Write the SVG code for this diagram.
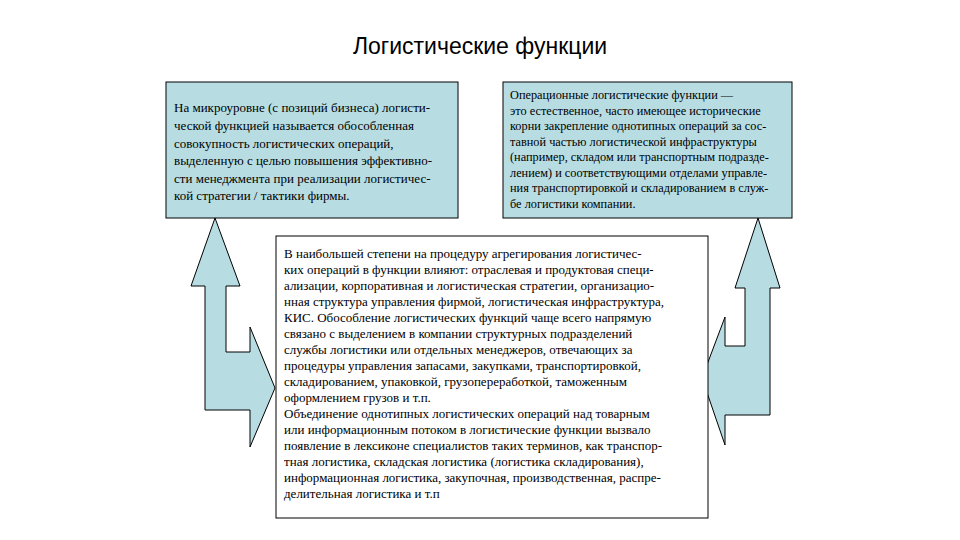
<svg xmlns="http://www.w3.org/2000/svg" width="960" height="540" viewBox="0 0 960 540">
<style>
.box{fill:#b7dde3;stroke:#000;stroke-width:1}
.wbox{fill:#fff;stroke:#000;stroke-width:1}
.arr{fill:#b7dde3;stroke:#000;stroke-width:1}
.s{font-family:'Liberation Serif','Times New Roman','DejaVu Serif',serif}
</style>
<rect width="960" height="540" fill="#fff"/>
<text font-family="'Liberation Sans', sans-serif" font-size="23" x="480" y="54" text-anchor="middle">Логистические функции</text>
<g id="connectors">
<polygon class="arr" points="215,218 240,286 226,286 226,352 250,352 250,327 275,388 250,447 250,410 205,410 205,286 191,286"/>
<polygon class="arr" points="758,218 780,288 770,288 770,415 725,415 725,445 702,378 725,317 725,346 745,346 745,288 735,288"/>
</g>
<g id="left">
<rect class="box" x="166" y="82" width="292" height="136"/>
<text class="s" font-size="13">
<tspan x="174" y="112">На микроуровне (с позиций бизнеса) логисти-</tspan>
<tspan x="174" y="130">ческой функцией называется обособленная</tspan>
<tspan x="174" y="148">совокупность логистических операций,</tspan>
<tspan x="174" y="165">выделенную с целью повышения эффективно-</tspan>
<tspan x="174" y="183">сти менеджмента при реализации логистичес-</tspan>
<tspan x="174" y="200">кой стратегии / тактики фирмы.</tspan>
</text>
</g>
<g id="right">
<rect class="box" x="503" y="82" width="289" height="136"/>
<text class="s" font-size="12.3">
<tspan x="510" y="99">Операционные логистические функции —</tspan>
<tspan x="510" y="115">это естественное, часто имеющее исторические</tspan>
<tspan x="510" y="130"> корни закрепление однотипных операций за сос-</tspan>
<tspan x="510" y="146">тавной частью логистической инфраструктуры</tspan>
<tspan x="510" y="161"> (например, складом или транспортным подразде-</tspan>
<tspan x="510" y="177">лением) и соответствующими отделами управле-</tspan>
<tspan x="510" y="192">ния транспортировкой и складированием в служ-</tspan>
<tspan x="510" y="208">бе логистики компании.</tspan>
</text>
</g>
<g id="center">
<rect class="wbox" x="276" y="236" width="432" height="282"/>
<text class="s" font-size="13">
<tspan x="284" y="258">В наибольшей степени на процедуру агрегирования  логистичес-</tspan>
<tspan x="284" y="274">ких операций в функции влияют: отраслевая и продуктовая специ-</tspan>
<tspan x="284" y="290">ализации, корпоративная и логистическая стратегии, организацио-</tspan>
<tspan x="284" y="306">нная структура управления фирмой, логистическая инфраструктура,</tspan>
<tspan x="284" y="322">КИС. Обособление логистических функций чаще всего напрямую</tspan>
<tspan x="284" y="338">связано с выделением в компании структурных подразделений</tspan>
<tspan x="284" y="354">службы логистики или отдельных менеджеров, отвечающих за</tspan>
<tspan x="284" y="370">процедуры управления запасами, закупками, транспортировкой,</tspan>
<tspan x="284" y="386">складированием, упаковкой, грузопереработкой, таможенным</tspan>
<tspan x="284" y="402">оформлением грузов и т.п.</tspan>
<tspan x="284" y="418">Объединение однотипных логистических операций над товарным</tspan>
<tspan x="284" y="434">или информационным потоком в логистические  функции вызвало</tspan>
<tspan x="284" y="450">появление в лексиконе специалистов таких терминов, как транспор-</tspan>
<tspan x="284" y="466">тная логистика, складская логистика (логистика складирования),</tspan>
<tspan x="284" y="482">информационная  логистика, закупочная, производственная, распре-</tspan>
<tspan x="284" y="498">делительная логистика и т.п</tspan>
</text>
</g>
</svg>
